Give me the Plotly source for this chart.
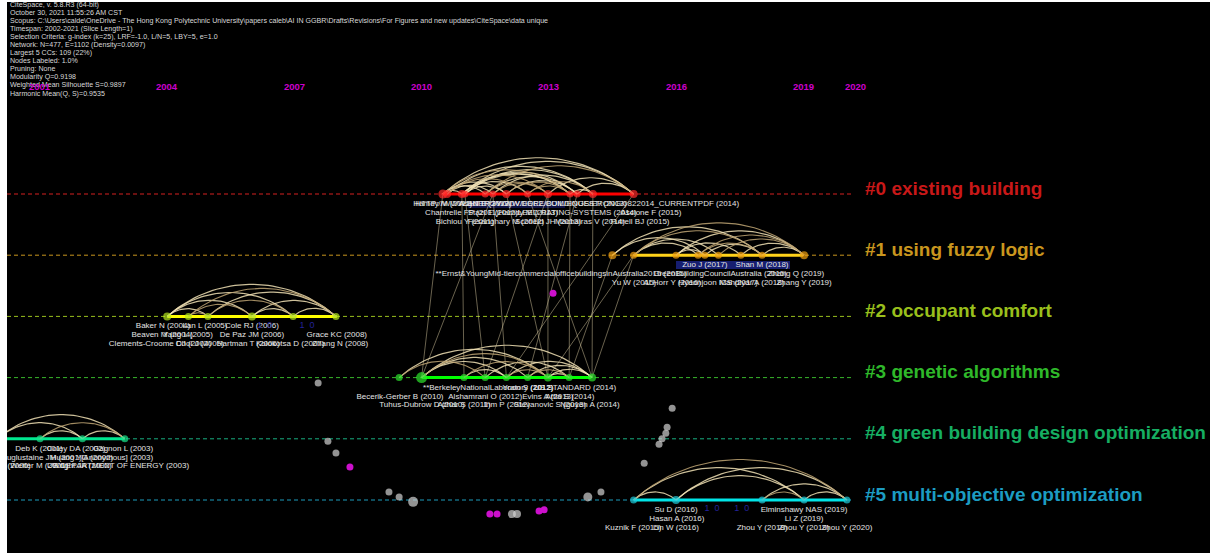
import numpy as np
import plotly.graph_objects as go

# ---------------- data ----------------
header_lines = [
    "CiteSpace, v. 5.8.R3 (64-bit)",
    "October 30, 2021 11:55:26 AM CST",
    "Scopus: C:\\Users\\calde\\OneDrive - The Hong Kong Polytechnic University\\papers caleb\\AI IN GGBR\\Drafts\\Revisions\\For Figures and new updates\\CiteSpace\\data unique",
    "Timespan: 2002-2021 (Slice Length=1)",
    "Selection Criteria: g-index (k=25), LRF=-1.0, L/N=5, LBY=5, e=1.0",
    "Network: N=477, E=1102 (Density=0.0097)",
    "Largest 5 CCs: 109 (22%)",
    "Nodes Labeled: 1.0%",
    "Pruning: None",
    "Modularity Q=0.9198",
    "Weighted Mean Silhouette S=0.9897",
    "Harmonic Mean(Q, S)=0.9535",
]

tick_years = [2001, 2004, 2007, 2010, 2013, 2016, 2019, 2020]

cluster_names = ["#0 existing building", "#1 using fuzzy logic", "#2 occupant comfort",
                 "#3 genetic algorithms", "#4 green building design optimization",
                 "#5 multi-objective optimization"]
cluster_text_colors = ["#C81818", "#C9961E", "#99BF1C", "#2FB82A", "#16AE62", "#1C9CC2"]
cluster_dash_colors = ["#D42020", "#C9961E", "#99BF1C", "#38B52A", "#18AE80", "#1C9CBC"]
cluster_line_colors = ["#FF0000", "#FFD21A", "#FFFF00", "#00FF00", "#00E890", "#00E5E8"]
cluster_node_colors = ["#FF2A2A", "#F0A010", "#B4E61E", "#2EE62E", "#18E38A", "#1ECCDC"]

# active period of each cluster (years)
cluster_start = [2010.5, 2015.0, 2004.0, 2010.0, 2000.0, 2015.0]
cluster_end = [2015.0, 2019.0, 2008.0, 2014.0, 2003.0, 2020.0]

# node years per cluster
c0_years = [2010.5, 2010.6, 2010.95, 2011.02, 2011.5, 2011.68, 2012.0, 2012.5, 2012.98, 2013.5, 2013.67, 2014.04, 2015.0]
c1_years = [2014.5, 2015.0, 2016.0, 2016.52, 2016.68, 2017.0, 2017.53, 2018.03, 2019.02]
c2_years = [2004.0, 2004.5, 2004.96, 2006.0, 2006.97, 2007.98]
c3_years = [2009.47, 2010.0, 2011.0, 2011.5, 2012.0, 2012.5, 2012.98, 2013.48, 2014.02]
c4_years = [2000.0, 2001.0, 2002.0, 2003.0]
c5_years = [2015.0, 2016.0, 2018.03, 2019.02, 2020.03]

c0_sizes = [9, 8, 8, 7, 7, 7, 8, 7, 8, 7, 7, 8, 8]
c1_sizes = [8, 7, 7, 7, 7, 7, 7, 7, 8]
c2_sizes = [8, 7, 7, 8, 7, 7]
c3_sizes = [7, 11, 7, 7, 7, 7, 8, 7, 8]
c4_sizes = [7, 7, 7, 7]
c5_sizes = [7, 8, 7, 7, 7]

# co-citation arcs inside each cluster (node index pairs)
c0_arcs = [(0, 12), (1, 11), (0, 9), (2, 12), (0, 6), (1, 8), (2, 10), (3, 9), (4, 12), (0, 4),
           (2, 7), (4, 8), (5, 11), (6, 10), (7, 11), (8, 12), (3, 6), (5, 8), (9, 11), (1, 5),
           (6, 9), (0, 2), (3, 11), (1, 7), (2, 9), (4, 10), (7, 9), (10, 12)]
c1_arcs = [(0, 4), (0, 7), (1, 8), (1, 5), (2, 8), (3, 8), (2, 6), (4, 7), (5, 8), (6, 8),
           (1, 3), (3, 7), (2, 4), (7, 8), (1, 7)]
c2_arcs = [(0, 5), (0, 4), (1, 5), (0, 3), (2, 5), (1, 3), (3, 5), (0, 2), (2, 4), (3, 4),
           (4, 5), (1, 2)]
c3_arcs = [(0, 6), (1, 8), (1, 6), (1, 5), (1, 4), (2, 6), (3, 7), (4, 8), (5, 7), (6, 8),
           (6, 7), (4, 6), (2, 4), (5, 8), (0, 3)]
c4_arcs = [(0, 3), (0, 2), (1, 3), (1, 2), (2, 3)]
c5_arcs = [(0, 1), (0, 3), (0, 4), (1, 3), (1, 4), (2, 3), (2, 4), (3, 4)]

# links between clusters: ((cluster, node), (cluster, node))
cross_links = [((3, 1), (0, 0)), ((3, 1), (0, 5)), ((3, 3), (0, 3)), ((3, 4), (0, 5)),
               ((3, 6), (0, 6)), ((3, 6), (0, 8)), ((3, 7), (0, 9)), ((3, 8), (0, 7)),
               ((3, 8), (0, 11)), ((3, 5), (0, 10)), ((3, 2), (0, 2)), ((3, 7), (1, 0)),
               ((3, 8), (1, 1)), ((3, 6), (1, 1)), ((3, 4), (0, 12)), ((3, 3), (0, 8))]

# node labels (text, year position, label row)
c0_labels = [("HTTP://WWW.ENERGY.GOV/EERE/BUILDINGS/ERONG/0822014_CURRENTPDF (2014)", 2013.67, 0),
             ("Hamdy M (2011)", 2010.5, 0), ("Asadi E (2012)", 2011.5, 0),
             ("HTTP://WWW.DOE2.COM/EQUEST/ (2013)", 2012.98, 0),
             ("Chantrelle FP (2011)", 2010.95, 1), ("Stazi F (2012)", 2011.68, 1),
             ("Hamdy M (2013)", 2012.51, 1), ("LEED RATING-SYSTEMS (2014)", 2013.67, 1),
             ("Ascione F (2015)", 2015.41, 1),
             ("Bichiou Y (2011)", 2011.02, 2), ("Fesanghary M (2012)", 2011.99, 2),
             ("Scofield JH (2013)", 2012.98, 2), ("Machairas V (2014)", 2013.97, 2),
             ("Futrell BJ (2015)", 2015.15, 2)]
c1_labels = [("Zuo J (2017)", 2016.68, 0), ("Shan M (2018)", 2018.03, 0),
             ("**Ernst&YoungMid-tiercommercialofficebuildingsinAustralia2015 (2015)", 2013.29, 1),
             ("GreenBuildingCouncilAustralia (2015)", 2017.04, 1), ("Zhang Q (2019)", 2018.83, 1),
             ("Yu W (2015)", 2015.01, 2), ("Al Horr Y (2016)", 2015.91, 2),
             ("Hyeonjoon ICS (2017)", 2016.99, 2), ("Mahdiyar A (2018)", 2017.79, 2),
             ("Zhang Y (2019)", 2019.02, 2)]
c2_labels = [("Baker N (2004)", 2003.9, 0), ("Lan L (2005)", 2004.89, 0), ("Cole RJ (2006)", 2006.0, 0),
             ("Beaven M (2004)", 2003.88, 1), ("Yang L (2005)", 2004.49, 1),
             ("De Paz JM (2006)", 2006.0, 1), ("Grace KC (2008)", 2008.0, 1),
             ("Clements-Croome DJ (2004)", 2003.83, 2), ("Choi J (2005)", 2004.77, 2),
             ("Hartman T (2006)", 2005.91, 2), ("Kolokotsa D (2007)", 2006.9, 2),
             ("Zhang N (2008)", 2008.08, 2)]
c3_labels = [("**BerkeleyNationalLaboratory (2012)", 2011.57, 0), ("Yoon S (2012)", 2012.51, 0),
             ("US STANDARD (2014)", 2013.62, 0),
             ("Becerik-Gerber B (2010)", 2009.49, 1), ("Alshamrani O (2012)", 2011.5, 1),
             ("Evins A (2013)", 2012.98, 1), ("Attia S (2014)", 2013.5, 1),
             ("Tuhus-Dubrow D (2010)", 2010.01, 2), ("Azhar S (2011)", 2011.0, 2),
             ("Ihm P (2012)", 2012.01, 2), ("Stevanovic S (2013)", 2013.03, 2),
             ("Nguyen A (2014)", 2013.97, 2)]
c4_labels = [("Deb K (2001)", 2000.98, 0), ("Coley DA (2002)", 2001.85, 0), ("Gagnon L (2003)", 2002.96, 0),
             ("Hauglustaine JM (2001)", 2000.98, 1), ("Huang YG (2002)", 2001.99, 1),
             ("[Anonymous] (2003)", 2002.82, 1),
             ("Goldberg D (2000)", 2000.0, 2), ("Wetter M (2001)", 2000.98, 2),
             ("Wright JA (2002)", 2001.99, 2), ("US DEPARTMENT OF ENERGY (2003)", 2002.84, 2)]
c5_labels = [("Su D (2016)", 2016.0, 0), ("Elminshawy NAS (2019)", 2019.02, 0),
             ("Hasan A (2016)", 2016.02, 1), ("Li Z (2019)", 2019.02, 1),
             ("Kuznik F (2015)", 2014.99, 2), ("Lin W (2016)", 2016.0, 2), ("Zhou Y (2018)", 2018.03, 2),
             ("Zhou Y (2019)", 2019.02, 2), ("Zhou Y (2020)", 2020.03, 2)]

# small dark-blue burst/count marks
blue_marks = [("1  0", 2006.3, 2), ("1  0", 2007.3, 2), ("1  0", 2016.85, 5), ("1  0", 2017.55, 5)]

# nodes of smaller clusters (year, vertical position in row units)
gray_x = [2007.56, 2007.79, 2007.98, 2009.23, 2009.47, 2009.8, 2012.13, 2012.25, 2013.92,
          2014.23, 2015.25, 2015.6, 2015.67, 2015.76, 2015.79, 2015.91]
gray_y = [3.09, 4.04, 4.23, 4.87, 4.95, 5.03, 5.23, 5.23, 4.95, 4.87, 4.4, 4.09, 4.0, 3.91, 3.81, 3.5]
gray_s = [7, 7, 7, 7, 7, 10, 8, 8, 9, 7, 7, 7, 7, 7, 7, 7]
mag_x = [2008.31, 2011.61, 2011.78, 2012.77, 2012.89, 2013.1]
mag_y = [4.46, 5.23, 5.23, 5.18, 5.16, 1.62]

# ---------------- geometry ----------------
W, H = 1210, 553
ML, MT = 7, 2
PXY = 42.4        # px per year
X2001 = 40.0      # px of 2001
ROW0 = 194.0      # px of row 0
ROWH = 61.2       # px per row


def x2px(x):
    return X2001 + (np.asarray(x) - 2001) * PXY


def px2x(px):
    return 2001 + (np.asarray(px) - X2001) / PXY


def py2y(py):
    return (np.asarray(py) - ROW0) / ROWH


x_range = [float(px2x(ML)), float(px2x(W))]
y_range = [float(py2y(H)), float(py2y(MT))]

node_years = [c0_years, c1_years, c2_years, c3_years, c4_years, c5_years]
node_sizes = [c0_sizes, c1_sizes, c2_sizes, c3_sizes, c4_sizes, c5_sizes]
arcs = [c0_arcs, c1_arcs, c2_arcs, c3_arcs, c4_arcs, c5_arcs]
labels = [c0_labels, c1_labels, c2_labels, c3_labels, c4_labels, c5_labels]

fig = go.Figure()

# dashed cluster guides
for i in range(6):
    fig.add_trace(go.Scatter(x=[px2x(ML), px2x(852)], y=[i, i], mode="lines",
                             line=dict(color=cluster_dash_colors[i], width=1, dash="4px,3px"),
                             hoverinfo="skip", showlegend=False))

# cross-cluster links
lx, ly = [], []
for (ca, na), (cb, nb) in cross_links:
    lx += [node_years[ca][na], node_years[cb][nb], None]
    ly += [ca, cb, None]
fig.add_trace(go.Scatter(x=lx, y=ly, mode="lines", line=dict(color="rgba(215,200,160,0.55)", width=0.9),
                         hoverinfo="skip", showlegend=False))

# solid active lines
for i in range(6):
    fig.add_trace(go.Scatter(x=[cluster_start[i], cluster_end[i]], y=[i, i], mode="lines",
                             line=dict(color=cluster_line_colors[i], width=3),
                             hoverinfo="skip", showlegend=False))


def arc_xy(xa, xb, row, ratio=0.19, n=40):
    pa, pb = float(x2px(xa)), float(x2px(xb))
    c = pb - pa
    h = ratio * c
    R = (c * c / 4 + h * h) / (2 * h)
    cx = (pa + pb) / 2
    base = ROW0 + row * ROWH
    cy = base + (R - h)
    half = np.arcsin((c / 2) / R)
    t = np.linspace(-half, half, n)
    xs = cx + R * np.sin(t)
    ys = cy - R * np.cos(t)
    return list(px2x(xs)), list(py2y(ys))


for i in range(6):
    ax1, ay1, ax2, ay2 = [], [], [], []
    for k, (a, b) in enumerate(arcs[i]):
        xs, ys = arc_xy(node_years[i][a], node_years[i][b], i)
        if k % 3 == 2:
            ax2 += xs + [None]
            ay2 += ys + [None]
        else:
            ax1 += xs + [None]
            ay1 += ys + [None]
    fig.add_trace(go.Scatter(x=ax1, y=ay1, mode="lines", line=dict(color="rgba(240,224,180,0.85)", width=1.2),
                             hoverinfo="skip", showlegend=False))
    fig.add_trace(go.Scatter(x=ax2, y=ay2, mode="lines", line=dict(color="rgba(190,165,115,0.85)", width=1.1),
                             hoverinfo="skip", showlegend=False))

# dark blue boxes behind some labels
fig.add_shape(type="rect", xref="x", yref="y", x0=float(px2x(676)), x1=float(px2x(790)),
              y0=float(py2y(261)), y1=float(py2y(269)), fillcolor="rgba(30,40,150,0.75)",
              line=dict(width=0), layer="below")
fig.add_shape(type="rect", xref="x", yref="y", x0=float(px2x(468)), x1=float(px2x(565)),
              y0=float(py2y(201)), y1=float(py2y(208)), fillcolor="rgba(30,40,150,0.45)",
              line=dict(width=0), layer="below")

# other-cluster nodes
fig.add_trace(go.Scatter(x=gray_x, y=gray_y, mode="markers",
                         marker=dict(color="#D2D2D2", size=gray_s, line=dict(width=0)),
                         hoverinfo="skip", showlegend=False))
fig.add_trace(go.Scatter(x=mag_x, y=mag_y, mode="markers",
                         marker=dict(color="#CC10CC", size=7, line=dict(width=0)),
                         hoverinfo="skip", showlegend=False))

# cluster nodes
for i in range(6):
    fig.add_trace(go.Scatter(x=node_years[i], y=[i] * len(node_years[i]), mode="markers",
                             marker=dict(color=cluster_node_colors[i], size=node_sizes[i], line=dict(width=0)),
                             hoverinfo="skip", showlegend=False))

# node labels
row_off = [10, 19, 27.5]
for i in range(6):
    tx = [l[1] for l in labels[i]]
    ty = [float(py2y(ROW0 + i * ROWH + row_off[l[2]])) for l in labels[i]]
    tt = [l[0] for l in labels[i]]
    fig.add_trace(go.Scatter(x=tx, y=ty, text=tt, mode="text", textposition="middle center",
                             textfont=dict(family="Arial, Liberation Sans", size=8, color="#E4E4E4"),
                             hoverinfo="skip", showlegend=False, cliponaxis=True))

fig.add_trace(go.Scatter(x=[b[1] for b in blue_marks],
                         y=[float(py2y(ROW0 + b[2] * ROWH + 9)) for b in blue_marks],
                         text=[b[0] for b in blue_marks], mode="text",
                         textfont=dict(family="Arial, Liberation Sans", size=9, color="#22229A"),
                         hoverinfo="skip", showlegend=False))

annotations = []
# header
for k, line in enumerate(header_lines):
    annotations.append(dict(x=(8 - ML) / (W - ML), y=1 - (5 + k * 8.05 - MT) / (H - MT),
                            xref="x domain", yref="y domain", text=line,
                            showarrow=False, xanchor="left", yanchor="middle",
                            font=dict(family="Arial, Liberation Sans", size=7.1, color="#D8D8D8")))

# year ticks
for yr in tick_years:
    annotations.append(dict(x=yr, y=float(py2y(86.5)), xref="x", yref="y", text="<b>%d</b>" % yr,
                            showarrow=False, xanchor="center", yanchor="middle",
                            xshift=10 if yr == 2020 else 0,
                            font=dict(family="Arial, Liberation Sans", size=9.5, color="#CC00CC")))

# cluster names
for i in range(6):
    annotations.append(dict(x=(863 - ML) / (W - ML), y=float(i), xref="x domain", yref="y",
                            text="<b>%s</b>" % cluster_names[i], showarrow=False,
                            xanchor="left", yanchor="middle", yshift=6,
                            font=dict(family="Arial, Liberation Sans", size=19,
                                      color=cluster_text_colors[i])))

fig.update_layout(
    width=W, height=H,
    margin=dict(l=ML, r=0, t=MT, b=0, pad=0),
    paper_bgcolor="white", plot_bgcolor="black",
    xaxis=dict(range=x_range, visible=False, fixedrange=True),
    yaxis=dict(range=y_range, visible=False, fixedrange=True),
    annotations=annotations,
    showlegend=False,
)

fig.write_html("out.html")
